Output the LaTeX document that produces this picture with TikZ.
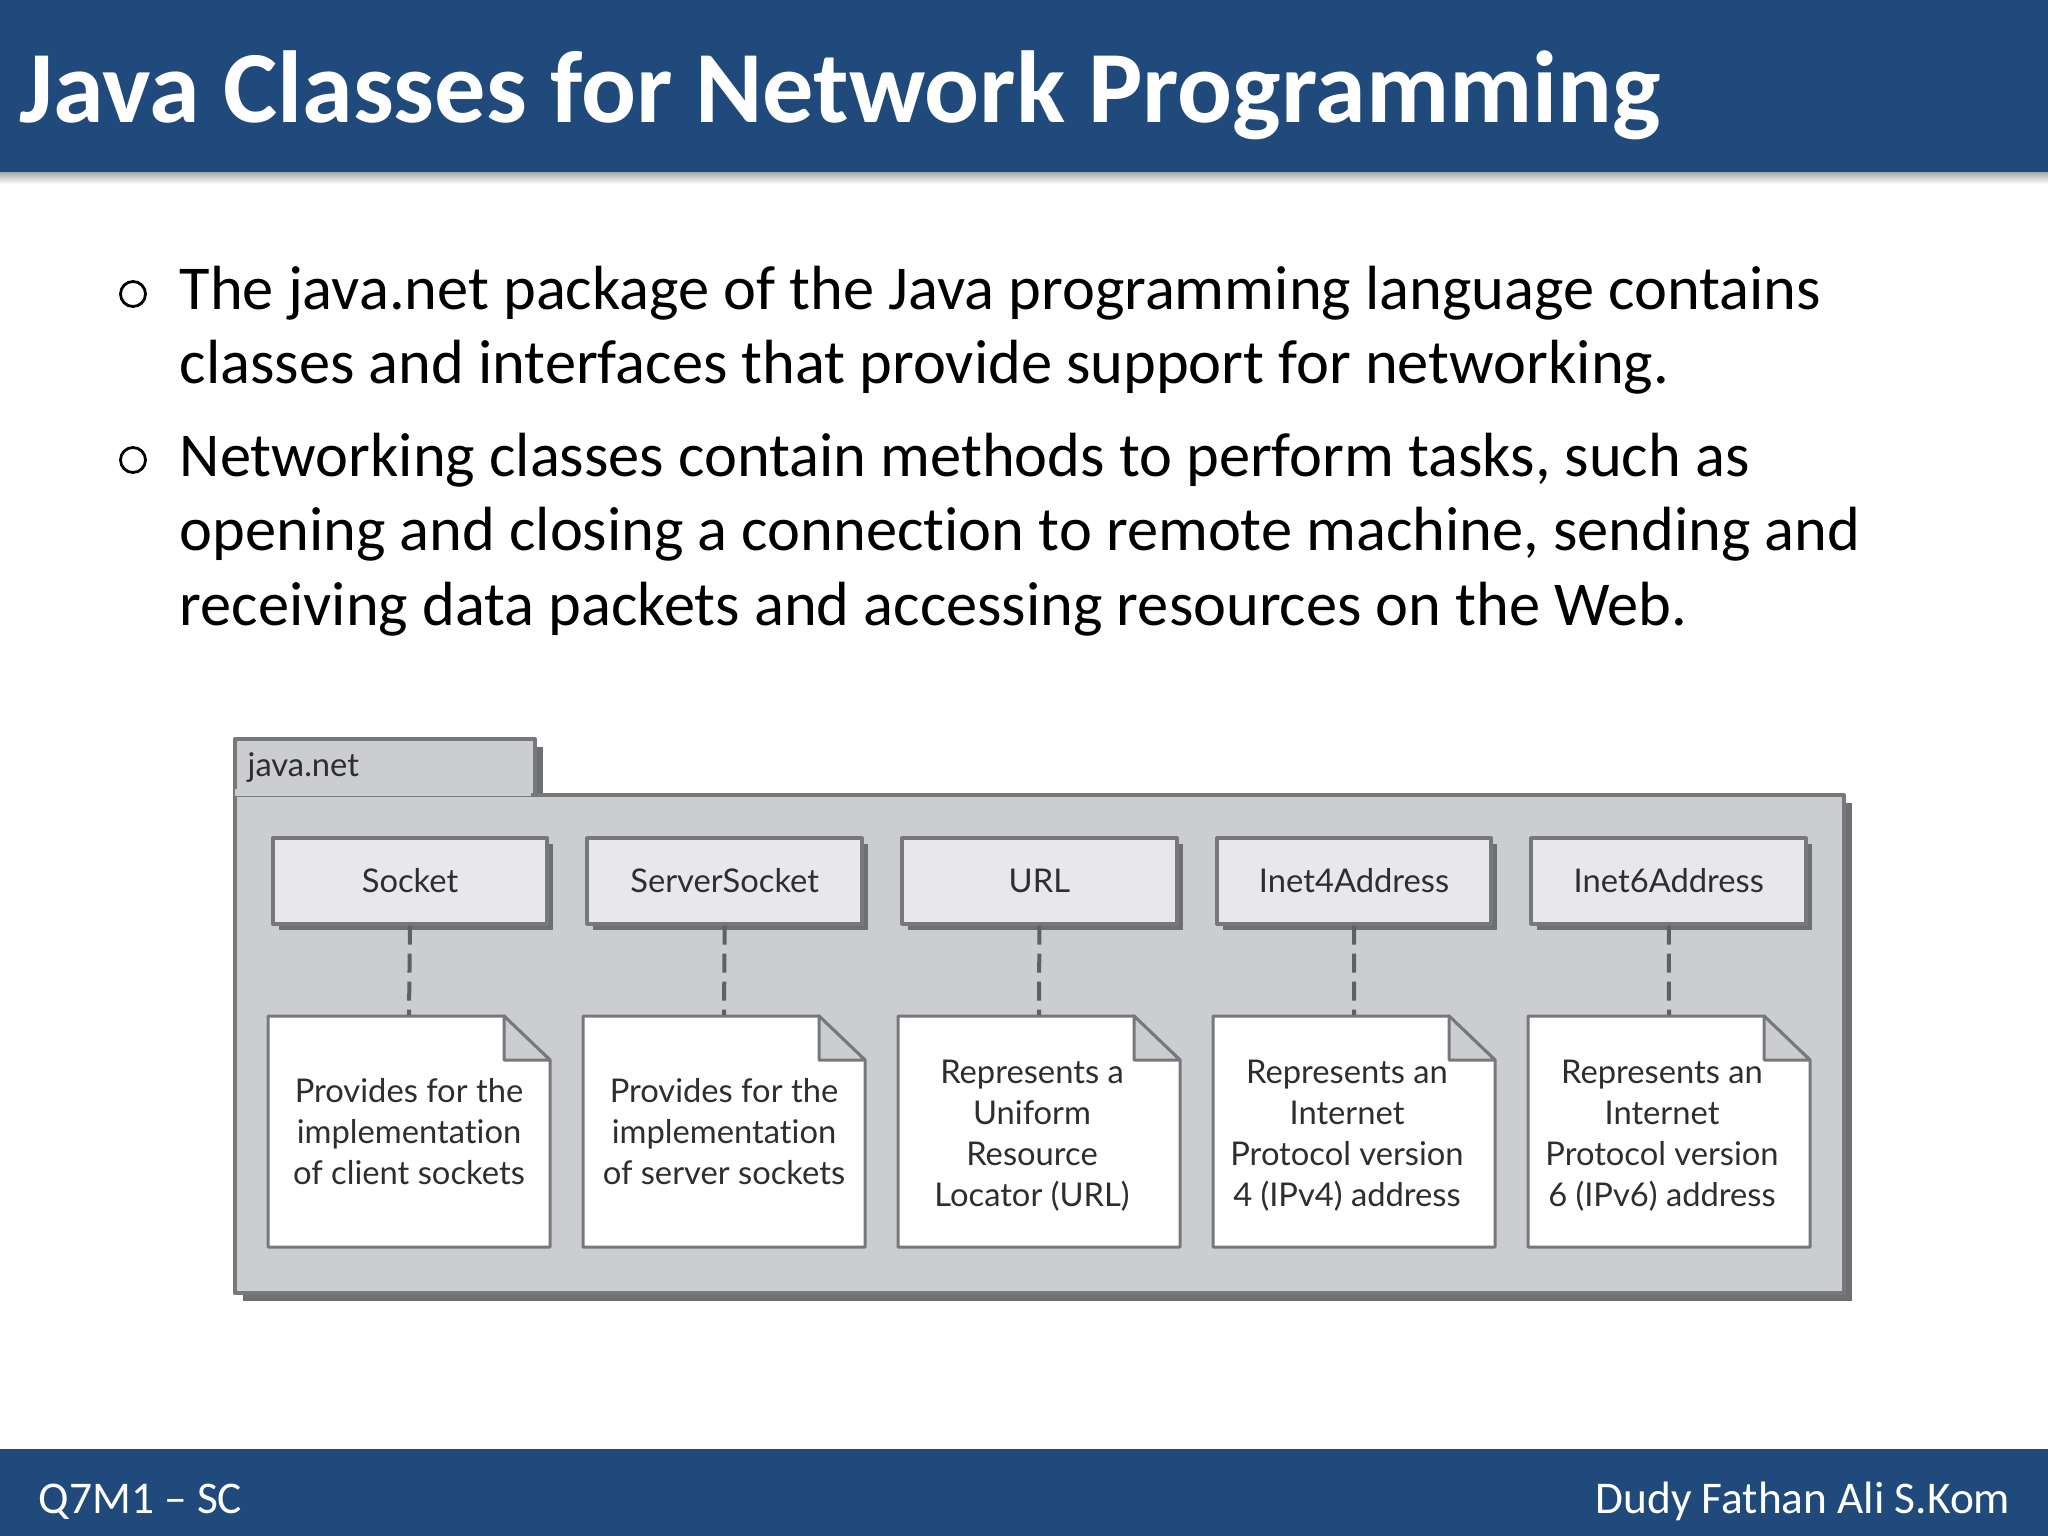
\documentclass[tikz,border=0pt]{standalone}
\usepackage{fontspec}
\setmainfont[Ligatures=NoCommon]{Carlito}
\newfontfamily\umlfont[Ligatures=NoCommon]{Lato}
\usetikzlibrary{shadows}
\definecolor{barblue}{HTML}{204A7C}
\definecolor{barshade}{HTML}{A8A8A8}
\definecolor{pkggray}{HTML}{CBCDD0}
\definecolor{boxgray}{HTML}{E8E8EA}
\definecolor{edgegray}{HTML}{77787B}
\definecolor{shadegray}{HTML}{6E6F72}
\definecolor{umltext}{HTML}{2E2E30}
\tikzset{
	bartitle/.style={anchor=base west, text=white, font=\fontsize{29.1}{34}\bfseries, inner sep=0pt},
	barfoot/.style={text=white, font=\fontsize{12.9}{15}\selectfont, inner sep=0pt},
	bodytext/.style={anchor=north west, align=left, inner sep=0pt, font=\fontsize{17.75}{21.3}\selectfont},
	bulletmark/.style={circle, draw, line width=.28mm, minimum size=.25cm, inner sep=0pt},
	pkgpart/.style={draw=edgegray, line width=.4mm, fill=pkggray, inner sep=0pt,
		general shadow={fill=shadegray, shadow xshift=.08cm, shadow yshift=-.08cm}},
	clsbox/.style={draw=edgegray, line width=.4mm, fill=boxgray, minimum width=2.745cm, minimum height=.85cm, inner sep=0pt,
		text=umltext, font=\umlfont\fontsize{9.3}{11.6}\selectfont,
		general shadow={fill=shadegray, shadow xshift=.06cm, shadow yshift=-.06cm}},
	notebox/.style={minimum width=2.82cm, minimum height=2.31cm, inner sep=0pt, align=center,
		text=umltext, font=\umlfont\fontsize{9.3}{11.6}\selectfont},
	noteline/.style={draw=edgegray, line width=.3mm, line join=round},
	dep/.style={draw=edgegray!80!black, line width=.4mm, dash pattern=on 1.9mm off .9mm}
}
\begin{document}
\begin{tikzpicture}[x=.01cm, y=-.01cm, line join=round]
	\useasboundingbox (0,0) rectangle (2048,1536);
	% bars
	\shade[top color=barshade, bottom color=white] (0,172) rectangle (2048,184);
	\fill[barblue] (0,0) rectangle (2048,172);
	\fill[barblue] (0,1449) rectangle (2048,1536);
	\node[bartitle] (title) at (19,122) {Java Classes for Network Programming};
	\node[barfoot, anchor=base west] (footl) at (38,1513) {Q7M1 -- SC};
	\node[barfoot, anchor=base east] (footr) at (2011,1513) {Dudy Fathan Ali S.Kom};
	% text
	\node[bulletmark] (dota) at (133,294) {};
	\node[bulletmark] (dotb) at (133,460) {};
	\node[bodytext] (texta) at (179,265) {The java.net package of the Java programming language contains\\classes and interfaces that provide support for networking.};
	\node[bodytext] (textb) at (179,432) {Networking classes contain methods to perform tasks, such as\\opening and closing a connection to remote machine, sending and\\receiving data packets and accessing resources on the Web.};
	% package
	\node[pkgpart, minimum width=3cm, minimum height=.58cm, anchor=north west] (tab) at (233,737) {};
	\node[pkgpart, minimum width=16.08cm, minimum height=4.98cm, anchor=north west] (pkg) at (233,793) {};
	\fill[pkggray] (235,789) rectangle (531,796);
	\node[anchor=base west, inner sep=0pt, text=umltext, font=\umlfont\fontsize{9.3}{11.6}\selectfont] (pkgname) at (247,776) {java.net};
	% classes and notes
	\foreach \i/\cname/\ntext/\dx/\dy in {
		0/Socket/{Provides for the\\implementation\\of client sockets}/0/0,
		1/ServerSocket/{Provides for the\\implementation\\of server sockets}/0/0,
		2/URL/{Represents a\\Uniform\\Resource\\Locator (URL)}/-7/4,
		3/Inet4Address/{Represents an\\Internet\\Protocol version\\4 (IPv4) address}/-7/4,
		4/Inet6Address/{Represents an\\Internet\\Protocol version\\6 (IPv6) address}/-7/4}{
		\pgfmathsetmacro\cx{410+314.7*\i}
		\pgfmathsetmacro\nl{268+315*\i}
		\pgfmathsetmacro\nr{\nl+282}
		\pgfmathsetmacro\nf{\nr-46}
		\draw[noteline, fill=white] (\nl,1016) -- (\nf,1016) -- (\nr,1060) -- (\nr,1247) -- (\nl,1247) -- cycle;
		\draw[noteline, fill=pkggray] (\nf,1016) -- (\nr,1060) -- (\nf,1060) -- cycle;
		\node[clsbox] (cls\i) at (\cx,881) {\cname};
		\node[notebox] (note\i) at (\nl/2+\nr/2,1131.5) {};
		\node[notebox, xshift=\dx*.01cm, yshift=-\dy*.01cm] (lab\i) at (note\i) {\ntext};
		\draw[dep] (cls\i.south) -- (note\i.north);
	}
\end{tikzpicture}
\end{document}
